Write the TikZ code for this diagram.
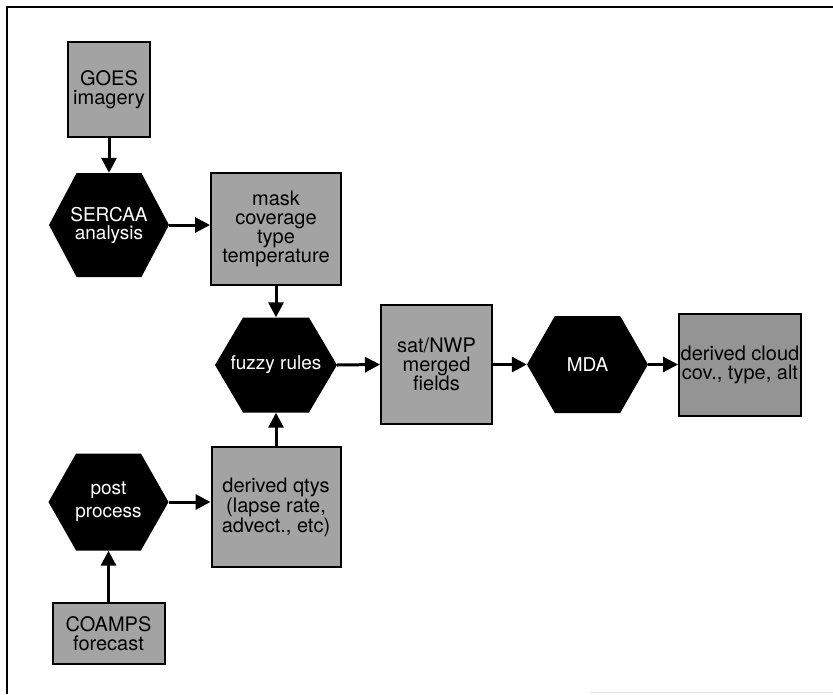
\documentclass[tikz,border=0pt]{standalone}
\usepackage{fontspec}
\setmainfont{TeX Gyre Heros}
\usetikzlibrary{arrows.meta,calc}
\tikzset{
  databox/.style={draw=black, line width=2pt, fill=black!36, text=black,
    align=center, inner sep=0pt, font=\fontsize{20}{19}\selectfont},
  hexbox/.style={inner sep=0pt, align=center, text=white,
    font=\fontsize{19}{18}\selectfont,
    path picture={\fill[black]
      (path picture bounding box.west)
      -- ($(path picture bounding box.north west)!0.23!(path picture bounding box.north east)$)
      -- ($(path picture bounding box.north west)!0.77!(path picture bounding box.north east)$)
      -- (path picture bounding box.east)
      -- ($(path picture bounding box.south west)!0.77!(path picture bounding box.south east)$)
      -- ($(path picture bounding box.south west)!0.23!(path picture bounding box.south east)$)
      -- cycle;}},
  flow/.style={line width=3pt, -{Triangle[length=15pt,width=15pt]}},
  framel/.style={line width=2pt, black}
}
\begin{document}
\begin{tikzpicture}[x=1pt,y=-1pt]
\useasboundingbox (0,0) rectangle (833,694);
% frame
\coordinate (fTR) at (833,7);
\coordinate (fTL) at (7,7);
\coordinate (fBL) at (7,694);
\draw[framel] (fTR) -- (fTL) -- (fBL);
\coordinate (fb1) at (590,692);
\coordinate (fb2) at (833,692);
\draw[black!12, line width=1pt] (fb1) -- (fb2);

% nodes
\node[databox, minimum width=82pt, minimum height=95pt] (goes) at (109,89.5) {GOES\\imagery};
\node[hexbox, minimum width=120pt, minimum height=104pt] (sercaa) at (109,225) {SERCAA\\analysis};
\node[databox, minimum width=130pt, minimum height=112pt] (mask) at (276,229) {mask\\coverage\\type\\temperature};
\node[hexbox, minimum width=122pt, minimum height=95pt] (fuzzy) at (276,365) {fuzzy rules};
\node[databox, minimum width=129pt, minimum height=120pt, font=\fontsize{20}{20}\selectfont] (qtys) at (276,507) {derived qtys\\(lapse rate,\\advect., etc)};
\node[hexbox, minimum width=120pt, minimum height=97pt, font=\fontsize{19}{23}\selectfont] (post) at (108.5,502) {post\\process};
\node[databox, minimum width=112pt, minimum height=61pt] (coamps) at (108.5,633.5) {COAMPS\\forecast};
\node[databox, minimum width=111pt, minimum height=119pt] (sat) at (436.5,364.5) {sat/NWP\\merged\\fields};
\node[hexbox, minimum width=121pt, minimum height=97pt] (mda) at (587.5,364.5) {MDA};
\node[databox, minimum width=122pt, minimum height=102pt, fill=black!42] (cloud) at (740,364.5) {derived cloud\\cov., type, alt};

% connectors
\draw[flow] (goes.south) -- (sercaa.north);
\draw[flow] (sercaa.east) -- (sercaa.east -| mask.west);
\draw[flow] (mask.south) -- (fuzzy.north);
\draw[flow] (qtys.north) -- (fuzzy.south);
\draw[flow] (coamps.north) -- (post.south);
\draw[flow] (post.east) -- (post.east -| qtys.west);
\draw[flow] (fuzzy.east) -- (sat.west);
\draw[flow] (sat.east) -- (mda.west);
\draw[flow] (mda.east) -- (cloud.west);
\end{tikzpicture}
\end{document}
